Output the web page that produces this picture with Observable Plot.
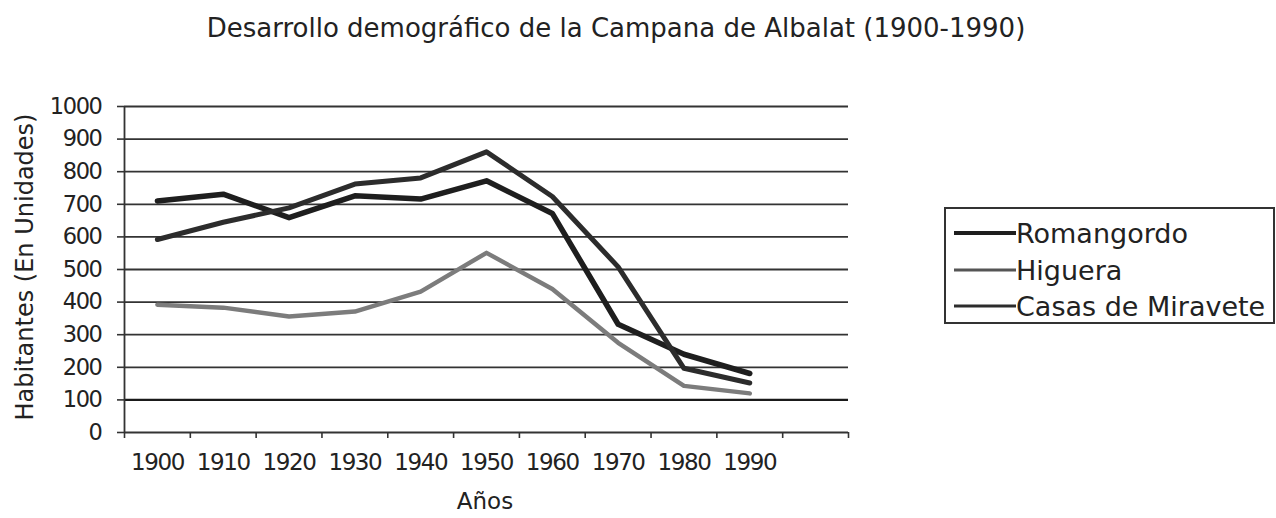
<!DOCTYPE html>
<html>
<head>
<meta charset="utf-8">
<script src="https://cdn.jsdelivr.net/npm/d3@7"></script>
<script src="https://cdn.jsdelivr.net/npm/@observablehq/plot@0.6"></script>
<style>
  html, body { margin: 0; padding: 0; background: #fff; }
  #wrap { position: relative; width: 1276px; height: 518px; overflow: hidden;
          font-family: "DejaVu Sans", sans-serif; color: #222; }
  #wrap > svg { position: absolute; left: 0; top: 0; }
  #wrap > svg g[aria-label="y-axis tick label"] text,
  #wrap > svg g[aria-label="x-axis tick label"] text { letter-spacing: -1.4px; }
  .title { position: absolute; left: 0; width: 1232px; top: 13px; text-align: center; font-size: 26px; white-space: nowrap; }
  .ylab { position: absolute; left: 25px; top: 267px; transform: translate(-50%, -50%) rotate(-90deg); font-size: 24px; white-space: nowrap; }
  .xlab { position: absolute; left: 485px; top: 488px; transform: translateX(-50%); font-size: 23px; white-space: nowrap; }
  .legend { position: absolute; left: 944px; top: 207px; width: 327px; height: 113px; border: 2px solid #333; background: #fff; }
  .legend .row { position: absolute; left: 6px; height: 32px; display: flex; align-items: center; font-size: 27px; white-space: nowrap; }
</style>
</head>
<body>
<div id="wrap">
  <div class="title">Desarrollo demográfico de la Campana de Albalat (1900-1990)</div>
  <div class="ylab">Habitantes (En Unidades)</div>
  <div class="xlab">Años</div>
  <div class="legend" id="legend"></div>
</div>
<script>
// ---- data ----
const years = [1900, 1910, 1920, 1930, 1940, 1950, 1960, 1970, 1980, 1990];
const seriesNames = ["Romangordo", "Higuera", "Casas de Miravete"];
const romangordo = [710, 731, 659, 726, 716, 772, 672, 332, 240, 181];
const higuera = [392, 383, 356, 371, 432, 551, 440, 275, 143, 120];
const casasDeMiravete = [592, 645, 689, 762, 781, 861, 724, 508, 197, 152];
const yTicks = [0, 100, 200, 300, 400, 500, 600, 700, 800, 900, 1000];
const xBounds = [1895, 1905, 1915, 1925, 1935, 1945, 1955, 1965, 1975, 1985, 1995, 2005];

const colors = ["#1e1e1e", "#7c7c7c", "#2c2c2c"];
const widths = [5.5, 4.5, 5];

const seriesValues = [romangordo, higuera, casasDeMiravete];
const table = [];
seriesNames.forEach((name, i) => {
  years.forEach((yr, j) => table.push({serie: name, year: yr, value: seriesValues[i][j]}));
});

const font = '"DejaVu Sans", sans-serif';

const chart = Plot.plot({
  width: 1276,
  height: 518,
  marginLeft: 124,
  marginRight: 428,
  marginTop: 106,
  marginBottom: 86,
  style: {fontFamily: font, color: "#222", background: "transparent"},
  x: {domain: [1895, 2005]},
  y: {domain: [0, 1000]},
  marks: [
    Plot.ruleY(yTicks.filter(d => d > 0 && d !== 100), {stroke: "#333", strokeWidth: 1.8}),
    Plot.ruleY([100], {stroke: "#1a1a1a", strokeWidth: 2.4}),
    Plot.ruleY([0], {stroke: "#333", strokeWidth: 1.8}),
    Plot.ruleX([1895], {y1: 0, y2: 1000, stroke: "#333", strokeWidth: 1.8}),
    Plot.axisY({ticks: yTicks, tickSize: 7, tickPadding: 16, tickFormat: d => String(d), label: null, fontSize: 22.5, stroke: "#333", strokeWidth: 1.6}),
    Plot.axisX({ticks: xBounds, tickSize: 6, tickFormat: () => "", label: null, stroke: "#333", strokeWidth: 1.6}),
    Plot.axisX({ticks: years, tickSize: 0, tickPadding: 21, tickFormat: d => String(d), label: null, fontSize: 23}),
    ...seriesNames.map((name, i) =>
      Plot.line(table.filter(d => d.serie === name), {
        x: "year", y: "value", stroke: colors[i], strokeWidth: widths[i], strokeLinejoin: "round"
      })
    )
  ]
});
document.getElementById("wrap").prepend(chart);

// legend
const legend = document.getElementById("legend");
const rowTops = [8, 45, 81];
seriesNames.forEach((name, i) => {
  const row = document.createElement("div");
  row.className = "row";
  row.style.top = rowTops[i] + "px";
  const ns = "http://www.w3.org/2000/svg";
  const s = document.createElementNS(ns, "svg");
  s.setAttribute("width", 64); s.setAttribute("height", 32);
  const l = document.createElementNS(ns, "line");
  l.setAttribute("x1", 2); l.setAttribute("x2", 64); l.setAttribute("y1", 16); l.setAttribute("y2", 16);
  l.setAttribute("stroke", i === 1 ? "#555" : colors[i]);
  l.setAttribute("stroke-width", i === 0 ? 4 : 3);
  s.appendChild(l);
  const t = document.createElement("span");
  t.textContent = name;
  row.appendChild(s); row.appendChild(t);
  legend.appendChild(row);
});
</script>
</body>
</html>
